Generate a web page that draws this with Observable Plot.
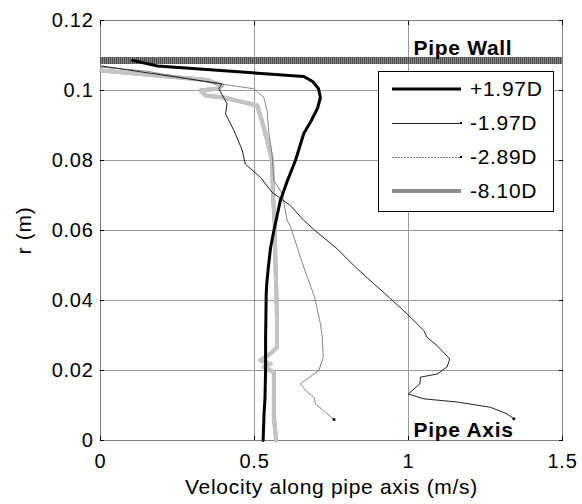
<!DOCTYPE html>
<html><head><meta charset="utf-8">
<script src="https://cdn.jsdelivr.net/npm/d3@7"></script>
<script src="https://cdn.jsdelivr.net/npm/@observablehq/plot@0.6"></script>
<style>
body{margin:0;background:#fff;}
#wrap{position:relative;width:582px;height:504px;font-family:"Liberation Sans",Arial,sans-serif;}
#wrap svg text{letter-spacing:0.7px;}
#legend{position:absolute;left:378px;top:71px;width:176px;height:141px;box-sizing:border-box;border:1.5px solid #000;background:#fff;}
</style></head><body><div id="wrap"></div>
<script>
const seriesNames = ["+1.97D", "-1.97D", "-2.89D", "-8.10D"];

const p197_v = [0.104, 0.185, 0.66, 0.69, 0.708, 0.714, 0.705, 0.685, 0.66, 0.633, 0.607, 0.584, 0.563, 0.552, 0.545, 0.540, 0.538, 0.537, 0.536, 0.536, 0.534, 0.531, 0.528];
const p197_r = [0.1086, 0.107, 0.104, 0.1025, 0.1005, 0.098, 0.095, 0.0915, 0.0877, 0.08, 0.0743, 0.0686, 0.06, 0.055, 0.0495, 0.045, 0.042, 0.035, 0.0295, 0.02, 0.012, 0.0077, 0.0];

const m197_v = [0.003, 0.395, 0.384, 0.411, 0.406, 0.433, 0.46, 0.47, 0.519, 0.557, 0.617, 0.66, 0.703, 0.768, 0.833, 0.942, 0.995, 1.05, 1.06, 1.093, 1.134, 1.125, 1.093, 1.039, 1.037, 0.999, 1.05, 1.158, 1.266, 1.32, 1.342];
const m197_r = [0.107, 0.1019, 0.1005, 0.0962, 0.0933, 0.0886, 0.083, 0.079, 0.0752, 0.0709, 0.0671, 0.0629, 0.0595, 0.0548, 0.0491, 0.0405, 0.0362, 0.0314, 0.0295, 0.0271, 0.0233, 0.021, 0.019, 0.0181, 0.0162, 0.0133, 0.0119, 0.011, 0.0095, 0.0076, 0.0062];

const m289_v = [0.003, 0.151, 0.346, 0.498, 0.53, 0.541, 0.547, 0.557, 0.563, 0.59, 0.606, 0.617, 0.66, 0.695, 0.714, 0.72, 0.723, 0.709, 0.649, 0.666, 0.693, 0.698, 0.758];
const m289_r = [0.1067, 0.1055, 0.1024, 0.1005, 0.0981, 0.0943, 0.0876, 0.0819, 0.0743, 0.0705, 0.0629, 0.061, 0.0495, 0.041, 0.0334, 0.0295, 0.0238, 0.02, 0.0162, 0.0143, 0.0124, 0.0105, 0.006];

const m810_v = [0.003, 0.346, 0.395, 0.384, 0.325, 0.341, 0.40, 0.509, 0.53, 0.552, 0.557, 0.56, 0.566, 0.568, 0.571, 0.573, 0.573, 0.552, 0.519, 0.552, 0.53, 0.563, 0.563, 0.563, 0.57];
const m810_r = [0.1057, 0.103, 0.1014, 0.1006, 0.10, 0.0986, 0.098, 0.0957, 0.0895, 0.0819, 0.08, 0.0705, 0.061, 0.0514, 0.042, 0.035, 0.0267, 0.0248, 0.0229, 0.0219, 0.021, 0.0195, 0.0152, 0.0067, 0.0];

const xTicks = [0, 0.5, 1, 1.5];
const xTickLabels = ["0", "0.5", "1", "1.5"];
const yTicks = [0, 0.02, 0.04, 0.06, 0.08, 0.1, 0.12];
const yTickLabels = ["0", "0.02", "0.04", "0.06", "0.08", "0.1", "0.12"];
const wallR = [0.1086];
const wallLabel = ["Pipe Wall"];
const axisLabel = ["Pipe Axis"];
const xTitle = "Velocity along pipe axis (m/s)";
const yTitle = "r (m)";

const zip = (vs, rs, name) => vs.map((v, i) => ({v, r: rs[i], name}));
const d_p197 = zip(p197_v, p197_r, seriesNames[0]);
const d_m197 = zip(m197_v, m197_r, seriesNames[1]);
const d_m289 = zip(m289_v, m289_r, seriesNames[2]);
const d_m810 = zip(m810_v, m810_r, seriesNames[3]);

const styles = {
  "+1.97D": {stroke: "#000", width: 3, dash: null, dot: false, off: 0},
  "-1.97D": {stroke: "#222", width: 1, dash: null, dot: true, off: 0.5},
  "-2.89D": {stroke: "#7a7a7a", width: 1, dash: "2,1", dot: true, off: 0.5},
  "-8.10D": {stroke: "#8c8c8c", width: 4, dash: null, dot: false, off: 0}
};

const fmtX = d => xTickLabels[xTicks.indexOf(d)];
const fmtY = d => yTickLabels[yTicks.indexOf(d)];

const plot = Plot.plot({
  width: 582, height: 504,
  marginLeft: 100, marginRight: 20, marginTop: 20, marginBottom: 64,
  style: {fontFamily: "'Liberation Sans', Arial, sans-serif", fontSize: "20px", background: "#fff", overflow: "visible"},
  x: {domain: [0, 1.5]},
  y: {domain: [0, 0.12]},
  marks: [
    Plot.gridX(xTicks, {stroke: "#999", strokeOpacity: 1}),
    Plot.gridY(yTicks, {stroke: "#999", strokeOpacity: 1}),
    Plot.frame({stroke: "#808080"}),
    Plot.ruleY(wallR, {stroke: "#8a8a8a", strokeWidth: 7}),
    Plot.ruleY(wallR, {stroke: "#4a4a4a", strokeWidth: 7, strokeDasharray: "1,1"}),
    Plot.line(d_m810, {x: "v", y: "r", stroke: "#a0a0a0", strokeWidth: 4}),
    Plot.line(d_m810, {x: "v", y: "r", stroke: "#c4c4c4", strokeWidth: 4, strokeDasharray: "1,1.5"}),
    Plot.line(d_m289, {x: "v", y: "r", stroke: styles["-2.89D"].stroke, strokeWidth: 1, strokeDasharray: "2,1"}),
    Plot.line(d_m197, {x: "v", y: "r", stroke: styles["-1.97D"].stroke, strokeWidth: 1}),
    Plot.line(d_p197, {x: "v", y: "r", stroke: "#000", strokeWidth: 3}),
    Plot.dot(d_m289, Plot.selectLast({x: "v", y: "r", symbol: "square", r: 1.5, fill: "#000"})),
    Plot.dot(d_m197, Plot.selectLast({x: "v", y: "r", symbol: "square", r: 1.5, fill: "#000"})),
    Plot.axisX(xTicks, {anchor: "bottom", tickSize: 0, tickPadding: 13, tickFormat: fmtX, label: null, fontSize: 20}),
    Plot.axisY(yTicks, {anchor: "left", tickSize: 0, tickPadding: 7, tickFormat: fmtY, label: null, fontSize: 20}),
    Plot.axisX(xTicks, {anchor: "bottom", tickSize: -4, tickFormat: () => "", label: null}),
    Plot.axisX(xTicks, {anchor: "top", tickSize: -4, tickFormat: () => "", label: null}),
    Plot.axisY(yTicks, {anchor: "left", tickSize: -4, tickFormat: () => "", label: null}),
    Plot.axisY(yTicks, {anchor: "right", tickSize: -4, tickFormat: () => "", label: null}),
    Plot.text(wallLabel, {x: 1, y: wallR[0], text: d => d, textAnchor: "start", lineAnchor: "bottom", dx: 5, dy: -5, fontWeight: "bold", fontSize: 21, fill: "#000"}),
    Plot.text(axisLabel, {x: 1, y: 0, text: d => d, textAnchor: "start", lineAnchor: "bottom", dx: 5, dy: -4, fontWeight: "bold", fontSize: 21, fill: "#000"}),
    Plot.text([xTitle], {frameAnchor: "bottom", text: d => d, textAnchor: "middle", lineAnchor: "bottom", dy: 53, fontSize: 21, fill: "#000"}),
    Plot.text([yTitle], {frameAnchor: "left", text: d => d, rotate: -90, textAnchor: "middle", lineAnchor: "middle", dx: -76, fontSize: 21, fill: "#000"})
  ]
});

const wrap = document.getElementById("wrap");
wrap.appendChild(plot);

// Legend
const leg = d3.select(wrap).append("div").attr("id", "legend");
const lsvg = leg.append("svg").attr("width", 173).attr("height", 138).style("display", "block");
seriesNames.forEach((name, i) => {
  const s = styles[name];
  const y = 17 + i * 34;
  lsvg.append("line").attr("x1", 13).attr("x2", 82).attr("y1", y + s.off).attr("y2", y + s.off)
    .attr("stroke", s.stroke).attr("stroke-width", s.width).attr("stroke-dasharray", s.dash);
  if (s.dot) lsvg.append("rect").attr("x", 81).attr("y", y - 1).attr("width", 2).attr("height", 2).attr("fill", "#000");
  lsvg.append("text").attr("x", 91).attr("y", y).attr("dy", "0.35em")
    .attr("font-family", "'Liberation Sans', Arial, sans-serif").attr("font-size", 21)
    .attr("letter-spacing", "0.8px").attr("fill", "#000").text(name);
});
</script></body></html>
